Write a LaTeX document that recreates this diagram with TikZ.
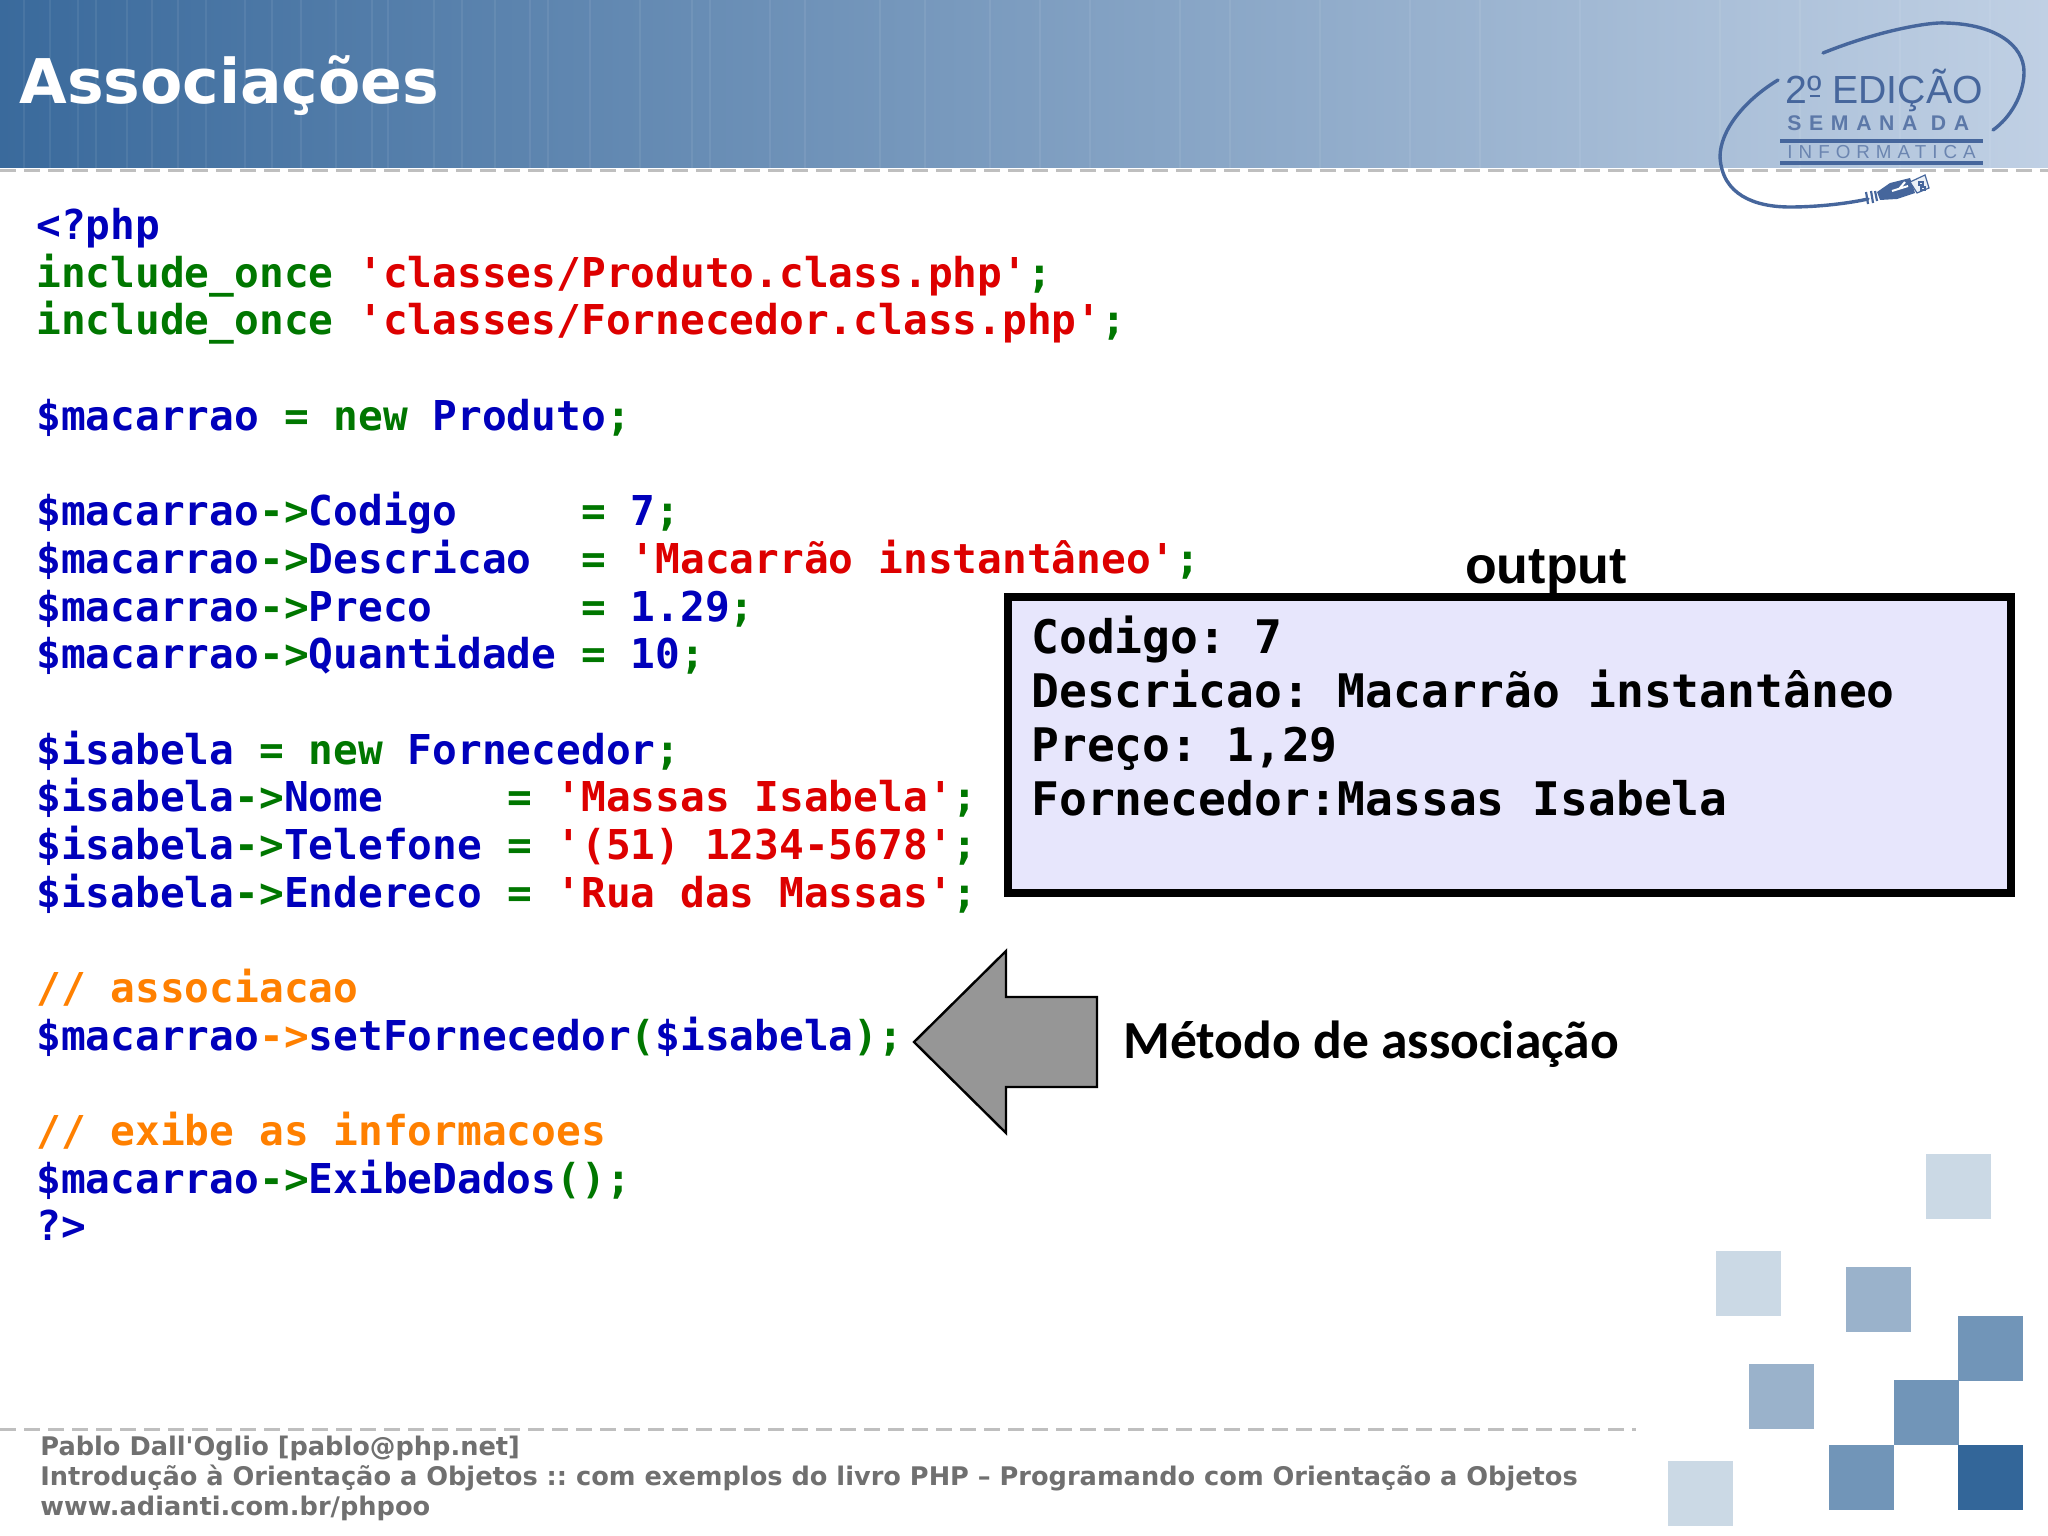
\documentclass[tikz,border=0pt]{standalone}
\usepackage{fontspec}
\setmainfont{DejaVu Sans}
\newfontfamily\footfont{DejaVu Sans}[BoldFont={DejaVu Sans Bold}]
\newfontfamily\codefont{DejaVu Sans Mono}[BoldFont={DejaVu Sans Mono Bold}]
\newfontfamily\liblogo{Liberation Sans}
\newfontfamily\logospaced{Liberation Sans}[LetterSpace=36]
\newfontfamily\logowide{Liberation Sans}[LetterSpace=32]
\newfontfamily\lblsans{Liberation Sans}
\newfontfamily\lblcarlito{Carlito}
\definecolor{phpb}{HTML}{0000BB}
\definecolor{phpg}{HTML}{007700}
\definecolor{phpr}{HTML}{DD0000}
\definecolor{phpo}{HTML}{FF8000}
\definecolor{sqa}{HTML}{CBD9E5}
\definecolor{sqb}{HTML}{9AB2CB}
\definecolor{sqc}{HTML}{7195B8}
\definecolor{sqd}{HTML}{336699}
\definecolor{logoc}{HTML}{46669C}
\definecolor{hdl}{HTML}{3A6A9C}
\definecolor{hdm}{HTML}{759CC2}
\definecolor{hdr}{HTML}{C0D0E4}
\definecolor{outfill}{HTML}{E7E6FC}
\newcommand{\bl}[1]{\textcolor{phpb}{#1}}
\newcommand{\gr}[1]{\textcolor{phpg}{#1}}
\newcommand{\rd}[1]{\textcolor{phpr}{#1}}
\newcommand{\og}[1]{\textcolor{phpo}{#1}}
\tikzset{
  codeline/.style={anchor=base west,inner sep=0pt,font=\frenchspacing\codefont\bfseries\fontsize{20.57}{24}\selectfont},
  outline/.style={anchor=base west,inner sep=0pt,font=\frenchspacing\codefont\bfseries\fontsize{23.13}{27}\selectfont},
  footline/.style={anchor=base west,inner sep=0pt,text=black!56,font=\frenchspacing\footfont\bfseries\fontsize{12.82}{15}\selectfont},
  rule/.style={draw=black!25,line width=1.5pt,dash pattern=on 8pt off 4pt},
  sq/.style={minimum size=32.3pt,inner sep=0pt,anchor=north west,draw=none},
  streak/.style={white,opacity=.07,line width=.6pt},
}
\begin{document}
\begin{tikzpicture}[x=.5pt,y=-.5pt]
\useasboundingbox (0,0) rectangle (2048,1535);
\fill[white] (0,0) rectangle (2048,1535);
\fill[left color=hdl,middle color=hdm,right color=hdr] (0,0) rectangle (2048,168);
\foreach \px in {24,50,78,96,127,152,178,206,245,272,301,336,372,388,434,462,495,530,548,590,640,692,710,770,805,880,925,990,1040,1090,1180,1230,1320,1410,1480,1580,1720,1800,1900,1990}
  \draw[streak] (\px,0) -- (\px,168);
\draw[rule] (0,171) -- (2048,171);
\draw[rule] (0,1429) -- (1636,1429);

% logo
\draw[logoc,line width=1.7pt,line cap=round] (1823,53) .. controls (1880,30) and (1930,22) .. (1945,23) .. controls (1995,24) and (2024,45) .. (2024,72) .. controls (2024,95) and (2010,118) .. (1993,130);
\draw[logoc,line width=1.7pt,line cap=round] (1778,80) .. controls (1745,100) and (1720,130) .. (1720,157) .. controls (1722,195) and (1755,207) .. (1790,207) .. controls (1820,207) and (1850,203) .. (1868,199);
\fill[logoc] (1877,192) -- (1890,183) -- (1910,178) -- (1915,193) -- (1897,199) -- (1880,200) -- cycle;
\draw[logoc,line width=1.1pt] (1866,192) -- (1868,204) (1871,191) -- (1873,203) (1875,191) -- (1877,201);
\draw[logoc,line width=.6pt,fill=hdr!30!white] (1910,182) -- (1925,175) -- (1929,188) -- (1917,193) -- cycle;
\draw[logoc,line width=.7pt] (1919,182) rectangle (1923,185) (1921,187) rectangle (1925,190);
\draw[white,line width=1pt] (1892,191) -- (1908,186) (1899,189) -- (1905,182);
\node[anchor=base west,inner sep=0pt,text=logoc,font=\liblogo\fontsize{19.6}{20}\selectfont] (logoa) at (1785,104) {2º EDIÇÃO};
\draw[logoc,line width=1pt] (1810,96) -- (1820,96);
\node[anchor=base west,inner sep=0pt,text=logoc!88!white,font=\logospaced\bfseries\fontsize{10.6}{11}\selectfont] (logob) at (1787,131) {SEMANA DA};
\draw[logoc,line width=2pt] (1780,141) -- (1983,141);
\node[anchor=base west,inner sep=0pt,text=logoc!80!white,font=\logowide\fontsize{9.4}{10}\selectfont] (logoc) at (1787,159) {INFORMATICA};
\draw[logoc,line width=2pt] (1780,163) -- (1983,163);

\node[anchor=base west,inner sep=0pt,text=white,font=\bfseries\fontsize{30.8}{37}\selectfont] (title) at (19,104) {Associações};

% code
\node[codeline] (l0) at (36,240) {\bl{<?php}};
\node[codeline] (l1) at (36,288) {\gr{include\_once} \rd{'classes/Produto.class.php'}\gr{;}};
\node[codeline] (l2) at (36,335) {\gr{include\_once} \rd{'classes/Fornecedor.class.php'}\gr{;}};
\node[codeline] (l4) at (36,430) {\bl{\$macarrao} \gr{= new} \bl{Produto}\gr{;}};
\node[codeline] (l6) at (36,525) {\bl{\$macarrao}\gr{->}\bl{Codigo}\ \ \ \ \ \gr{=} \bl{7}\gr{;}};
\node[codeline] (l7) at (36,573) {\bl{\$macarrao}\gr{->}\bl{Descricao}\ \ \gr{=} \rd{'Macarrão instantâneo'}\gr{;}};
\node[codeline] (l8) at (36,621) {\bl{\$macarrao}\gr{->}\bl{Preco}\ \ \ \ \ \ \gr{=} \bl{1.29}\gr{;}};
\node[codeline] (l9) at (36,668) {\bl{\$macarrao}\gr{->}\bl{Quantidade} \gr{=} \bl{10}\gr{;}};
\node[codeline] (l11) at (36,764) {\bl{\$isabela} \gr{= new} \bl{Fornecedor}\gr{;}};
\node[codeline] (l12) at (36,811) {\bl{\$isabela}\gr{->}\bl{Nome}\ \ \ \ \ \gr{=} \rd{'Massas Isabela'}\gr{;}};
\node[codeline] (l13) at (36,859) {\bl{\$isabela}\gr{->}\bl{Telefone} \gr{=} \rd{'(51) 1234-5678'}\gr{;}};
\node[codeline] (l14) at (36,907) {\bl{\$isabela}\gr{->}\bl{Endereco} \gr{=} \rd{'Rua das Massas'}\gr{;}};
\node[codeline] (l16) at (36,1002) {\og{// associacao}};
\node[codeline] (l17) at (36,1050) {\bl{\$macarrao}\og{->}\bl{setFornecedor}\gr{(}\bl{\$isabela}\gr{);}};
\node[codeline] (l19) at (36,1145) {\og{// exibe as informacoes}};
\node[codeline] (l20) at (36,1193) {\bl{\$macarrao}\gr{->}\bl{ExibeDados}\gr{();}};
\node[codeline] (l21) at (36,1240) {\bl{?>}};

% output
\node[anchor=base,inner sep=0pt,font=\lblsans\bfseries\fontsize{26}{30}\selectfont] (outlbl) at (1546,583) {output};
\draw[black,line width=3.6pt,fill=outfill] (1008,597) rectangle (2011,893);
\node[outline] (o0) at (1031,653) {Codigo: 7};
\node[outline] (o1) at (1031,707) {Descricao: Macarrão instantâneo};
\node[outline] (o2) at (1031,761) {Preço: 1,29};
\node[outline] (o3) at (1031,815) {Fornecedor:Massas Isabela};

% arrow
\draw[black,line width=1.2pt,fill=black!41,line join=miter] (914,1042) -- (1006,951) -- (1006,997) -- (1097,997) -- (1097,1087) -- (1006,1087) -- (1006,1133) -- cycle;
\node[anchor=base west,inner sep=0pt,font=\lblcarlito\bfseries\fontsize{26.8}{32}\selectfont] (mlbl) at (1123,1058) {Método de associação};

% squares
\node[sq,fill=sqa] (s1) at (1926,1154) {};
\node[sq,fill=sqa] (s2) at (1716,1251) {};
\node[sq,fill=sqb] (s3) at (1846,1267) {};
\node[sq,fill=sqc] (s4) at (1958,1316) {};
\node[sq,fill=sqb] (s5) at (1749,1364) {};
\node[sq,fill=sqc] (s6) at (1894,1380) {};
\node[sq,fill=sqc] (s7) at (1829,1445) {};
\node[sq,fill=sqd] (s8) at (1958,1445) {};
\node[sq,fill=sqa] (s9) at (1668,1461) {};

% footer
\node[footline] (f0) at (40,1455) {Pablo Dall'Oglio [pablo@php.net]};
\node[footline] (f1) at (40,1485) {Introdução à Orientação a Objetos :: com exemplos do livro PHP – Programando com Orientação a Objetos};
\node[footline] (f2) at (40,1515) {www.adianti.com.br/phpoo};
\end{tikzpicture}
\end{document}
